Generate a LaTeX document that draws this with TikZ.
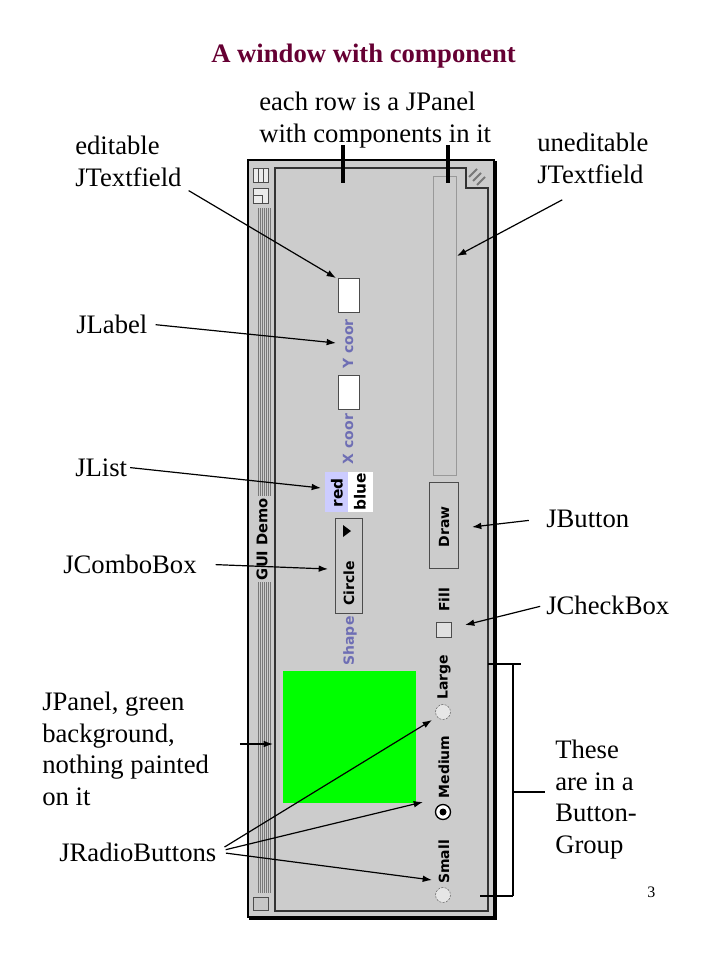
\documentclass[tikz,border=0pt]{standalone}
\usepackage{fontspec}
\setmainfont{Liberation Serif}
\newfontfamily\guifont{DejaVu Sans}
\usetikzlibrary{arrows.meta}
\definecolor{slidetitle}{RGB}{102,0,51}
\definecolor{wingray}{RGB}{204,204,204}
\definecolor{bargray}{RGB}{120,120,120}
\definecolor{guiblue}{RGB}{110,110,180}
\definecolor{selblue}{RGB}{204,204,255}
\definecolor{panelgreen}{RGB}{0,255,0}
\tikzset{
	callout/.style={font=\fontsize{20}{23.6}\selectfont, align=left, inner sep=0pt, anchor=base west},
	ctl/.style={font=\guifont\bfseries\fontsize{10.5}{11}\selectfont, rotate=90, inner sep=0pt},
	guilabel/.style={ctl, text=guiblue},
	pointer/.style={-{Latex[length=7pt,width=5pt]}, line width=0.9pt},
	radio/.style={draw=gray!80!black, dash pattern=on 1.6pt off 0.9pt, fill=wingray!50!white},
}
\begin{document}
\begin{tikzpicture}[x=0.75pt, y=-0.75pt]
		\useasboundingbox (0,0) rectangle (720,960);
		\node[callout, font=\bfseries\fontsize{20}{24}\selectfont, text=slidetitle] (title) at (211,62) {A window with component};
		% window
		\draw[fill=wingray, line width=1pt] (248,160) rectangle (494,917);
		\draw[line width=2.5pt] (495,161) -- (495,918) -- (249,918);
		\foreach \x in {258,260,...,270}{
			\draw[bargray, line width=0.5pt] (\x,208) -- (\x,496);
			\draw[bargray, line width=0.5pt] (\x,582) -- (\x,893);
			};
		\node[ctl, font=\guifont\bfseries\fontsize{11}{12}\selectfont] (wintitle) at (262,539) {GUI Demo};
		\draw[fill=white!85!gray, draw=black!70] (253,168) rectangle (268,182);
		\draw[black!70] (258,168) -- (258,182) (263,168) -- (263,182);
		\draw[fill=white!85!gray, draw=black!70] (253,188) rectangle (268,203);
		\draw[black!70] (253,195) -| (262,203);
		\draw[fill=gray!45, draw=black!70] (253,897) rectangle (268,910);
		\draw[fill=wingray, line width=1.5pt, draw=black!80] (275,168) -- (466,168) -- (466,188) -- (488,188) -- (488,911) -- (275,911) -- cycle;
		\foreach \d in {-4,0,4}
			\draw[bargray, line width=1.5pt] (473+\d,181+\d) -- (481+\d,173+\d);
		% components
		\draw[gray!80, fill=wingray] (433,176) rectangle (456,475);
		\foreach \y in {278,375}
			\draw[gray!60!black, fill=white] (338,\y) rectangle (359,\y+34);
		\node[guilabel] (ycoor) at (348,344) {Y coor};
		\node[guilabel] (xcoor) at (348,439) {X coor};
		\fill[selblue] (325,472) rectangle (348,512);
		\fill[white] (348,472) rectangle (373,512);
		\node[ctl, font=\guifont\bfseries\fontsize{11.5}{12}\selectfont] (red) at (337,493) {red};
		\node[ctl, font=\guifont\bfseries\fontsize{11.5}{12}\selectfont] (blue) at (360,492) {blue};
		\draw[gray!60!black, fill=wingray] (335,518) rectangle (362,613);
		\fill (343,525) -- (343,537) -- (351,531) -- cycle;
		\node[ctl] (shapebox) at (349,583) {Circle};
		\node[guilabel] (shape) at (350,641) {Shape};
		\draw[gray!60!black, fill=wingray] (429,482) rectangle (458,568);
		\node[ctl] (drawbtn) at (444,527) {Draw};
		\draw[gray!60!black, fill=wingray!60!white] (436,622) rectangle (451,637);
		\node[ctl] (fillbox) at (444,600) {Fill};
		\fill[panelgreen] (283,671) rectangle (416,803);
		\foreach \y/\txt/\ty in {712/Large/677, 812/Medium/767, 895/Small/862}{
			\draw[radio] (443,\y) circle[radius=7.5];
			\node[ctl] (\txt) at (444,\ty) {\txt};
			};
		\draw[line width=1pt, fill=white] (443,812) circle[radius=7.5];
		\fill (443,812) circle[radius=3.5];
		% callouts
		\node[callout] (edit) at (75,186) {editable\\JTextfield};
		\node[callout] (lab) at (76,333) {JLabel};
		\node[callout] (list) at (75,476) {JList};
		\node[callout] (combo) at (63,573) {JComboBox};
		\node[callout] (panel) at (42,805) {JPanel, green\\background,\\nothing painted\\on it};
		\node[callout] (radio) at (59,861) {JRadioButtons};
		\node[callout] (rows) at (259,142) {each row is a JPanel\\with components in it};
		\node[callout] (unedit) at (537,183) {uneditable\\JTextfield};
		\node[callout] (button) at (546,527) {JButton};
		\node[callout] (check) at (546,614) {JCheckBox};
		\node[callout] (group) at (555,853) {These\\are in a\\Button-\\Group};
		\node[callout, font=\fontsize{12}{14}\selectfont] (page) at (647,897) {3};
		\foreach \x in {343,448}
			\draw[line width=3pt] (\x,145) -- (\x,183);
		% arrows
		\coordinate (editT) at (336,278);
		\coordinate (labT) at (336,343);
		\coordinate (listT) at (321,488);
		\coordinate (comboT) at (328,569);
		\coordinate (pnlT) at (273,744);
		\coordinate (largeT) at (432,720);
		\coordinate (medT) at (423,802);
		\coordinate (smallT) at (432,880);
		\coordinate (uneditT) at (457,256);
		\coordinate (buttonT) at (472,527);
		\coordinate (checkT) at (465,625);
		\draw[pointer, shorten <=6pt] (edit.south east) -- (editT);
		\draw[pointer, shorten <=6pt] (lab.east) -- (labT);
		\draw[pointer, shorten <=2pt] (list.east) -- (listT);
		\draw[pointer, shorten <=14pt] (combo.east) -- (comboT);
		\draw[pointer, shorten <=23pt] (panel.east |- pnlT) -- (pnlT);
		\foreach \t in {largeT,medT,smallT}
			\draw[pointer, shorten <=7pt] (radio.east) -- (\t);
		\draw[pointer, shorten <=26pt] (unedit.south) -- (uneditT);
		\draw[pointer, shorten <=13pt] (button.west) -- (buttonT);
		\draw[pointer, shorten <=4.5pt] (check.west) -- (checkT);
		% bracket
		\draw[line width=0.8pt] (488,664) -- (521,664) (513,664) -- (513,896) (480,896) -- (513,896);
		\coordinate (brk) at (513,792);
		\draw[line width=0.8pt, shorten >=7.5pt] (brk) -- (brk -| group.west);
\end{tikzpicture}
\end{document}
